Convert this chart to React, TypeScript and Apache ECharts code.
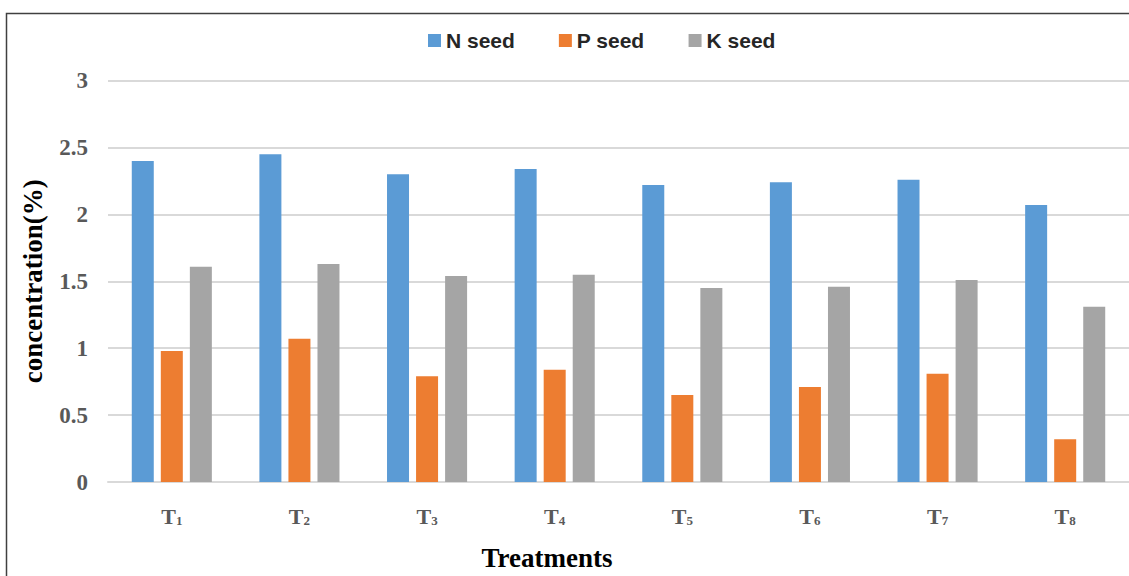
import React, { useEffect, useRef } from "react";
import * as echarts from "echarts";

const categories = ["T1", "T2", "T3", "T4", "T5", "T6", "T7", "T8"];
const nSeed = [2.4, 2.45, 2.3, 2.34, 2.22, 2.24, 2.26, 2.07];
const pSeed = [0.98, 1.07, 0.79, 0.84, 0.65, 0.71, 0.81, 0.32];
const kSeed = [1.61, 1.63, 1.54, 1.55, 1.45, 1.46, 1.51, 1.31];
const seriesNames = ["N seed", "P seed", "K seed"];
const colors = ["#5b9bd5", "#ed7d31", "#a5a5a5"];

export default function App() {
  const ref = useRef<HTMLDivElement>(null);
  useEffect(() => {
    if (!ref.current) return;
    const chart = echarts.init(ref.current, null, { renderer: "svg" });
    const serif = "'Liberation Serif', 'Times New Roman', serif";
    const sans = "'Liberation Sans', Arial, sans-serif";
    const data = [nSeed, pSeed, kSeed];
    chart.setOption({
      animation: false,
      backgroundColor: "#ffffff",
      color: colors,
      legend: {
        left: 423,
        top: 25,
        icon: "rect",
        itemWidth: 13,
        itemHeight: 13,
        itemGap: 44,
        textStyle: { fontFamily: sans, fontSize: 21, fontWeight: "bold", color: "#262626" },
        data: seriesNames,
      },
      grid: { left: 108, right: -3, top: 80.7, bottom: 94, containLabel: false },
      xAxis: {
        type: "category",
        data: categories,
        axisLine: { show: true, lineStyle: { color: "#d9d9d9", width: 2 } },
        axisTick: { show: false },
        axisLabel: {
          margin: 21,
          formatter: (v: string) => `{t|${v.slice(0, 1)}}{s|${v.slice(1)}}`,
          rich: {
            t: { fontFamily: serif, fontSize: 22, fontWeight: "bold", color: "#595959", verticalAlign: "bottom", lineHeight: 24 },
            s: { fontFamily: serif, fontSize: 13, fontWeight: "bold", color: "#595959", verticalAlign: "bottom", lineHeight: 24 },
          },
        },
      },
      yAxis: {
        type: "value",
        min: 0,
        max: 3,
        interval: 0.5,
        name: "concentration(%)",
        nameLocation: "middle",
        nameGap: 62,
        nameTextStyle: { fontFamily: serif, fontSize: 27, fontWeight: "bold", color: "#000000" },
        axisLine: { show: false },
        axisTick: { show: false },
        axisLabel: { margin: 20, fontFamily: serif, fontSize: 23, fontWeight: "bold", color: "#595959" },
        splitLine: { show: true, lineStyle: { color: "#d9d9d9", width: 2 } },
      },
      series: seriesNames.map((name, i) => ({
        name,
        type: "bar",
        data: data[i],
        barWidth: 22,
        barGap: "32%",
        itemStyle: { color: colors[i] },
      })),
      graphic: [
        {
          type: "rect",
          shape: { x: 6.5, y: 13.5, width: 1200, height: 700 },
          style: { fill: "none", stroke: "#404040", lineWidth: 1.5 },
          silent: true,
        },
        {
          type: "text",
          x: 547,
          y: 558,
          style: {
            text: "Treatments",
            fontFamily: serif,
            fontSize: 27,
            fontWeight: "bold",
            fill: "#000000",
            align: "center",
            verticalAlign: "middle",
          },
        },
      ],
    });
    return () => chart.dispose();
  }, []);
  return (
    <div
      ref={ref}
      style={{ position: "fixed", left: 0, top: 0, width: 1129, height: 576 }}
    />
  );
}
